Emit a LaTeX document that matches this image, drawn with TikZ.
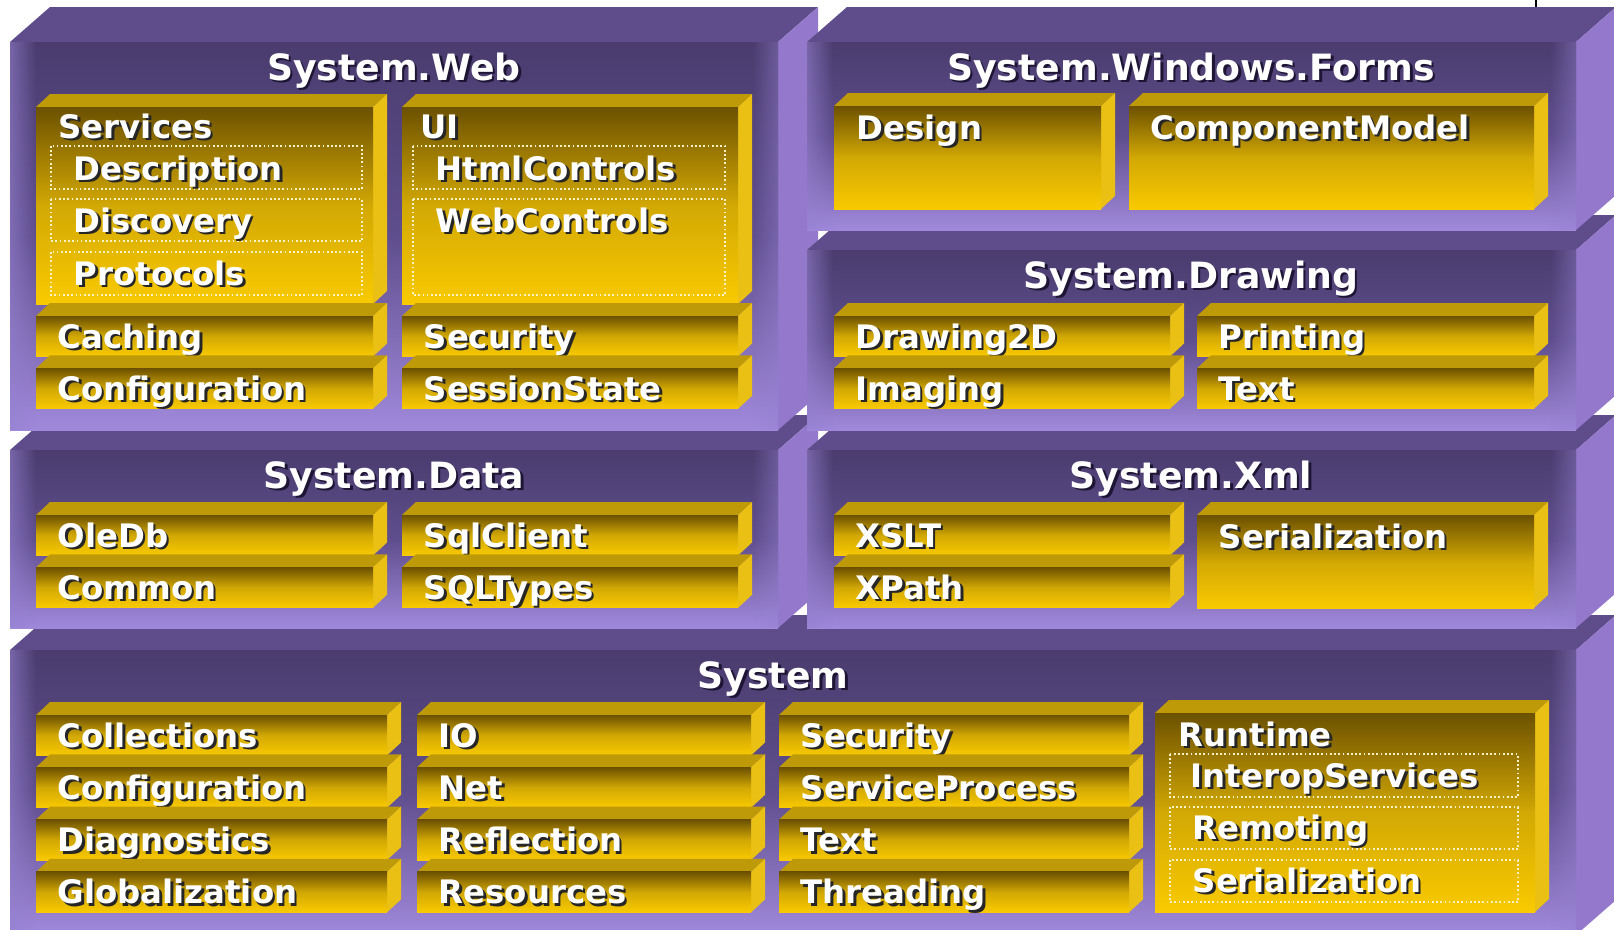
\documentclass[tikz,border=0pt]{standalone}
\usepackage{fontspec}
\setmainfont{DejaVu Sans}
\usetikzlibrary{fadings}

\definecolor{pDark}{HTML}{4A3C6E}
\definecolor{pMid}{HTML}{5F4E8D}
\definecolor{pLight}{HTML}{A089DB}
\definecolor{pTop}{HTML}{5E4D8A}
\definecolor{pSide}{HTML}{9478CC}
\definecolor{pEdge}{HTML}{9580D0}
\definecolor{yDark}{HTML}{6C5100}
\definecolor{yMid}{HTML}{D2A804}
\definecolor{yLight}{HTML}{F9CA00}
\definecolor{yTop}{HTML}{BE9908}
\definecolor{ySide}{HTML}{EAC014}
\definecolor{yLine}{HTML}{FFF2C4}
\definecolor{tShadow}{HTML}{1E1535}

\tikzfading[name=fadeleft, left color=transparent!40, right color=transparent!100]
\tikzfading[name=faderight, left color=transparent!100, right color=transparent!55]

% purple layer: x1, y1, x2, y2 of the front face
\newcommand\layer[4]{%
  \fill[layertop] (#1,#2) -- ++(40,-35) -- (#3+40,#2-35) -- (#3,#2) -- cycle;
  \fill[layerside] (#3,#2) -- ++(40,-35) -- (#3+40,#4-35) -- (#3,#4) -- cycle;
  \shade[layerfront] (#1,#2) rectangle (#3,#4);
  \fill[layeredge, path fading=fadeleft] (#1,#2) rectangle (#1+26,#4);
  \fill[layeredge, path fading=faderight] (#3-26,#2) rectangle (#3,#4);
}
% yellow block: x1, y1, x2, y2 of the front face
\newcommand\yblock[4]{%
  \fill[blocktop] (#1,#2) -- ++(14,-13) -- (#3+14,#2-13) -- (#3,#2) -- cycle;
  \fill[blockside] (#3,#2) -- ++(14,-13) -- (#3+14,#4-13) -- (#3,#4) -- cycle;
  \shade[blockfront] (#1,#2) rectangle (#3,#4);
}
\newcommand\lbl[4]{%
  \node[itemshadow] (#1-sh) at (#2+2.5,#3+2.5) {#4};
  \node[item] (#1) at (#2,#3) {#4};
}
\newcommand\ttl[4]{%
  \node[titleshadow] (#1-sh) at (#2+2.5,#3+2.5) {#4};
  \node[title] (#1) at (#2,#3) {#4};
}
% bars stacked downwards: x1, x2, top of the first front, name/text list
\newcommand\barstack[4]{%
  \foreach \nm/\txt [count=\i from 0] in {#4} {
    \pgfmathsetmacro\yt{#3+52.3*\i}
    \yblock{#1}{\yt}{#2}{\yt+40.5}
    \lbl{\nm}{#1+21}{\yt+32}{\txt}
  }}

\begin{document}
\begin{tikzpicture}[x=0.01cm, y=-0.01cm,
    layertop/.style={fill=pTop},
    layerside/.style={fill=pSide},
    layerfront/.style={top color=pDark, bottom color=pLight, middle color=pMid},
    layeredge/.style={fill=pEdge},
    blocktop/.style={fill=yTop},
    blockside/.style={fill=ySide},
    blockfront/.style={top color=yDark, bottom color=yLight, middle color=yMid},
    subbox/.style={draw=yLine, line width=0.45pt, dash pattern=on 0.5pt off 0.7pt},
    item/.style={anchor=base west, inner sep=0pt, text=white,
      font=\fontsize{9.2}{11}\selectfont\bfseries},
    itemshadow/.style={item, text=black!85},
    title/.style={anchor=base, inner sep=0pt, text=white,
      font=\fontsize{10.3}{12}\selectfont\bfseries},
    titleshadow/.style={title, text=tShadow}]
  \useasboundingbox (0,0) rectangle (1614,930);
  \clip (0,0) rectangle (1614,930);
  \fill[white] (0,0) rectangle (1614,930);
  \draw[black, line width=0.3pt] (1536,0) -- (1536,8);

  % System
  \layer{10}{650}{1576}{935}
  \ttl{system}{773}{688}{System}
  \barstack{36}{387}{715}{collections/Collections, sysconfig/Configuration, diagnostics/Diagnostics, globalization/Globalization}
  \barstack{417}{751}{715}{io/IO, net/Net, reflection/Reflection, resources/Resources}
  \barstack{779}{1129}{715}{syssecurity/Security, serviceprocess/ServiceProcess, systext/Text, threading/Threading}
  \yblock{1155}{713}{1535}{912}
  \draw[subbox] (1170,754) rectangle (1518,797);
  \draw[subbox] (1170,807) rectangle (1518,849);
  \draw[subbox] (1170,860) rectangle (1518,902);
  \lbl{runtime}{1178}{746}{Runtime}
  \lbl{interop}{1190}{787}{InteropServices}
  \lbl{remoting}{1192}{839}{Remoting}
  \lbl{rtserial}{1192}{892}{Serialization}

  % System.Data
  \layer{10}{450}{778}{628}
  \ttl{data}{394}{488}{System.Data}
  \barstack{36}{373}{515}{oledb/OleDb, common/Common}
  \barstack{402}{738}{515}{sqlclient/SqlClient, sqltypes/SQLTypes}

  % System.Xml
  \layer{807}{450}{1576}{628}
  \ttl{xml}{1191}{488}{System.Xml}
  \barstack{834}{1170}{515}{xslt/XSLT, xpath/XPath}
  \yblock{1197}{515}{1534}{608}
  \lbl{xmlserial}{1218}{548}{Serialization}

  % System.Web
  \layer{10}{42}{778}{430}
  \ttl{web}{394}{80}{System.Web}
  \yblock{36}{107}{373}{304}
  \yblock{402}{107}{738}{304}
  \draw[subbox] (51,146) rectangle (362,189);
  \draw[subbox] (51,199) rectangle (362,241);
  \draw[subbox] (51,252) rectangle (362,295);
  \draw[subbox] (413,146) rectangle (725,189);
  \draw[subbox] (413,199) rectangle (725,295);
  \lbl{services}{58}{138}{Services}
  \lbl{description}{73}{180}{Description}
  \lbl{discovery}{73}{232}{Discovery}
  \lbl{protocols}{73}{285}{Protocols}
  \lbl{ui}{420}{138}{UI}
  \lbl{htmlcontrols}{435}{180}{HtmlControls}
  \lbl{webcontrols}{435}{232}{WebControls}
  \barstack{36}{373}{316}{caching/Caching, webconfig/Configuration}
  \barstack{402}{738}{316}{websecurity/Security, sessionstate/SessionState}

  % System.Drawing
  \layer{807}{250}{1576}{430}
  \ttl{drawing}{1191}{288}{System.Drawing}
  \barstack{834}{1170}{316}{drawing2d/Drawing2D, imaging/Imaging}
  \barstack{1197}{1534}{316}{printing/Printing, drawtext/Text}

  % System.Windows.Forms
  \layer{807}{42}{1576}{230}
  \ttl{forms}{1191}{80}{System.Windows.Forms}
  \yblock{834}{106}{1101}{209}
  \yblock{1129}{106}{1534}{209}
  \lbl{design}{856}{139}{Design}
  \lbl{componentmodel}{1150}{139}{ComponentModel}
\end{tikzpicture}
\end{document}
